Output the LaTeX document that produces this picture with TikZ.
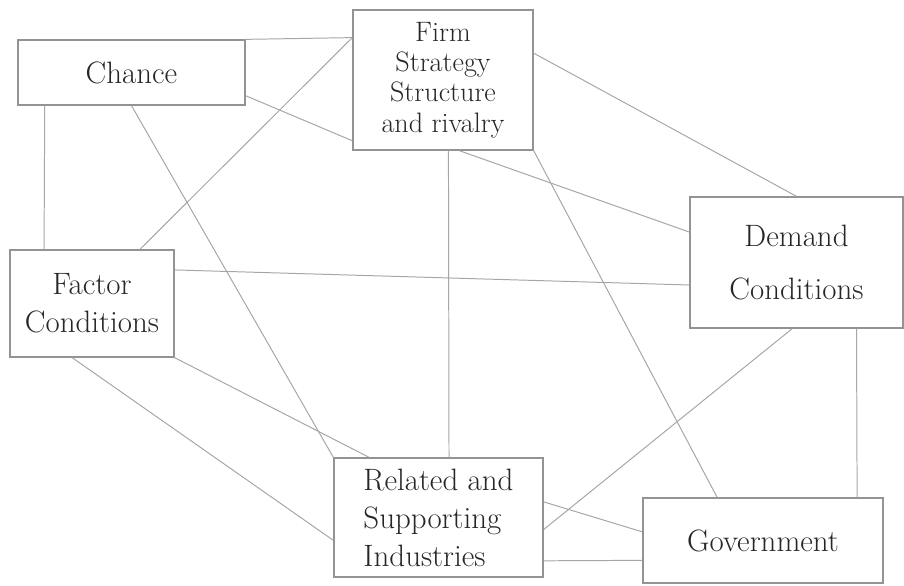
\documentclass[tikz,border=0pt]{standalone}
\usetikzlibrary{calc}
\begin{document}
\begin{tikzpicture}[x=0.025cm, y=-0.025cm,
        every node/.style={draw=gray!85, line width=0.9pt, inner sep=0pt, align=center, text=black!85, font=\fontsize{22}{27}\selectfont},%les cases
        link/.style={draw=gray!70, line width=0.7pt}]%les traits de liaison
    \useasboundingbox (0,0) rectangle (904,586);

    % les six cases
    \node[minimum width=5.675cm, minimum height=1.625cm] (chance) at (131.5,72.5) {Chance};
    \node[minimum width=4.5cm, minimum height=3.5cm, font=\fontsize{20}{21.5}\selectfont] (firm) at (443,80) {Firm\\ Strategy\\ Structure\\ and rivalry};
    \node[minimum width=5.325cm, minimum height=3.275cm] (demand) at (796.5,262.5) {Demand\\[10pt] Conditions};
    \node[minimum width=4.1cm, minimum height=2.675cm] (factor) at (92,303.5) {Factor\\ Conditions};
    \node[minimum width=5.225cm, minimum height=2.975cm, align=left] (related) at (438.5,517.5) {Related and\\ Supporting\\ Industries};
    \node[minimum width=6cm, minimum height=2.125cm] (government) at (763,540.5) {Government};

    % points de rencontre sur la case du haut
    \coordinate (firmA) at ($(firm.north west)!.2!(firm.south west)$);

    \draw[link] (chance.north east) -- (firmA);
    \draw[link] ($(chance.north east)!.85!(chance.south east)$) -- ($(firm.north west)!.93!(firm.south west)$);
    \draw[link] ($(chance.south west)!.12!(chance.south east)$) -- ($(factor.north west)!.21!(factor.north east)$);
    \draw[link] (chance.south) -- (related.north west);

    \draw[link] ($(factor.north west)!.79!(factor.north east)$) -- (firmA);
    \draw[link] ($(factor.north east)!.19!(factor.south east)$) -- ($(demand.north west)!.67!(demand.south west)$);
    \draw[link] ($(factor.south west)!.38!(factor.south east)$) -- ($(related.north west)!.69!(related.south west)$);
    \draw[link] (factor.south east) -- ($(related.north west)!.17!(related.north east)$);

    \draw[link] ($(firm.south west)!.53!(firm.south east)$) -- ($(related.north west)!.55!(related.north east)$);
    \draw[link] ($(firm.north east)!.31!(firm.south east)$) -- (demand.north);
    \draw[link] ($(firm.south west)!.59!(firm.south east)$) -- ($(demand.north west)!.27!(demand.south west)$);
    \draw[link] (firm.south east) -- ($(government.north west)!.31!(government.north east)$);

    \draw[link] ($(demand.south west)!.48!(demand.south east)$) -- ($(related.north east)!.6!(related.south east)$);
    \draw[link] ($(demand.south west)!.78!(demand.south east)$) -- ($(government.north west)!.89!(government.north east)$);

    \draw[link] ($(related.north east)!.37!(related.south east)$) -- ($(government.north west)!.4!(government.south west)$);
    \draw[link] ($(related.north east)!.86!(related.south east)$) -- ($(government.north west)!.73!(government.south west)$);
\end{tikzpicture}
\end{document}
